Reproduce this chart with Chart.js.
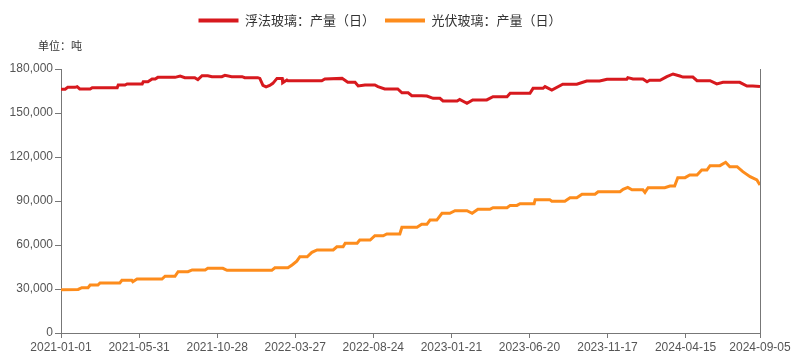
<!DOCTYPE html>
<html>
<head>
<meta charset="utf-8">
<script src="https://cdn.jsdelivr.net/npm/chart.js@4.4.1/dist/chart.umd.min.js"></script>
<style>
  html, body { margin: 0; padding: 0; background: #fff; }
  #wrap { position: relative; width: 800px; height: 357px; }
  #unit { position: absolute; left: 38px; top: 37px; font: 11px "Noto Sans CJK SC", sans-serif; color: #333; }
</style>
</head>
<body>
<div id="wrap">
  <canvas id="c" width="800" height="357"></canvas>
  <div id="unit">单位：吨</div>
</div>
<script>
// x positions are days since 2021-01-01
const tickDays   = [0, 150, 300, 450, 600, 750, 900, 1050, 1200, 1343];
const tickLabels = ['2021-01-01','2021-05-31','2021-10-28','2022-03-27','2022-08-24',
                    '2023-01-21','2023-06-20','2023-11-17','2024-04-15','2024-09-05'];

const seriesNames = ['浮法玻璃：产量（日）', '光伏玻璃：产量（日）'];

const floatDays = [0,8,13,27,31,36,56,60,108,110,123,127,156,158,167,175,181,186,219,229,238,257,263,271,282,290,309,315,328,348,353,378,382,388,394,401,407,415,425,426,434,436,501,507,540,551,565,571,584,603,609,622,647,655,667,674,693,703,715,728,734,761,766,780,791,818,830,857,863,901,907,926,930,943,964,991,1010,1035,1049,1087,1089,1099,1118,1126,1131,1151,1164,1176,1189,1195,1214,1222,1247,1260,1272,1304,1318,1329,1343];
const floatVals = [166200,166200,167500,167500,168000,166400,166400,167300,167300,169100,169100,169800,169800,171300,171300,173200,173200,174300,174300,175200,174100,174100,172700,175400,175400,174800,174800,175700,174800,174800,174100,174100,173600,168800,167800,168800,170200,173600,173600,170600,172500,172000,172000,173200,173600,170900,170900,168400,169100,169100,168000,166400,166400,163800,163800,161800,161800,161600,160000,160000,158200,158200,159300,156600,158900,158900,161100,161100,163400,163400,166800,166800,168000,165700,169600,169600,171800,171800,173000,173000,174100,173200,173200,171300,172300,172300,174800,176600,175200,174500,174500,172000,172000,169800,170900,170900,168400,168400,168000];

const pvDays = [0,33,40,52,56,71,75,113,117,136,138,146,194,200,219,225,244,252,277,282,311,319,405,411,436,444,453,459,473,482,492,523,530,542,546,569,574,594,603,619,626,651,655,684,693,703,709,722,732,747,757,780,790,801,824,830,857,863,876,882,909,911,939,943,968,978,991,1001,1026,1032,1074,1080,1089,1097,1118,1122,1128,1160,1170,1179,1185,1199,1208,1222,1231,1241,1247,1266,1277,1285,1299,1310,1324,1337,1343];
const pvVals = [29500,29700,30900,30900,32700,32700,34100,34100,35900,35900,35000,36800,36800,38700,38700,41800,41800,43000,43000,44100,44100,42700,42700,44500,44500,46400,49000,52000,52000,55000,56600,56600,58800,58800,61200,61200,63400,63400,66300,66300,67500,67500,72100,72100,74100,74100,77000,77000,81600,81600,83400,83400,81600,84300,84300,85400,85400,87000,87000,88200,88200,90900,90900,89800,89800,92200,92200,94600,94600,96300,96300,98000,99300,97700,97700,95900,99100,99100,100200,100200,105900,105900,107700,107700,111100,111100,114100,114100,116400,113400,113400,110000,106600,104300,100900];

const toPts = (d, v) => d.map((x, i) => ({ x: x, y: v[i] }));

const legendSpacer = {
  id: 'legendSpacer',
  beforeInit(chart) {
    const origFit = chart.legend.fit;
    chart.legend.fit = function () {
      origFit.bind(chart.legend)();
      this.height = 65;
    };
  }
};

const axisColor = '#777';
const labelColor = '#555';
const tickFont = { family: '"Liberation Sans", Arial, sans-serif', size: 12 };

new Chart(document.getElementById('c'), {
  type: 'line',
  data: {
    datasets: [
      { label: seriesNames[0], data: toPts(floatDays, floatVals), borderColor: '#d7191e', backgroundColor: '#d7191e',
        borderWidth: 3, pointRadius: 0, tension: 0, yAxisID: 'y' },
      { label: seriesNames[1], data: toPts(pvDays, pvVals), borderColor: '#fd8c1c', backgroundColor: '#fd8c1c',
        borderWidth: 3, pointRadius: 0, tension: 0, yAxisID: 'y' }
    ]
  },
  options: {
    responsive: false,
    animation: false,
    layout: { padding: { top: 4, left: 0, right: 40, bottom: 0 } },
    plugins: {
      legend: {
        position: 'top',
        labels: {
          boxWidth: 40, boxHeight: 4, padding: 10,
          color: '#333',
          font: { family: '"Noto Sans CJK SC", sans-serif', size: 13 },
          generateLabels(chart) {
            const items = Chart.defaults.plugins.legend.labels.generateLabels(chart);
            items.forEach(it => { it.lineWidth = 0; it.fillStyle = it.strokeStyle; });
            return items;
          }
        }
      },
      tooltip: { enabled: false }
    },
    scales: {
      x: {
        type: 'linear', min: 0, max: 1343,
        afterBuildTicks(scale) { scale.ticks = tickDays.map(v => ({ value: v })); },
        afterFit(scale) { scale.height = 24; },
        ticks: {
          autoSkip: false, maxRotation: 0, padding: 2, color: labelColor, font: tickFont,
          callback(value) { const i = tickDays.indexOf(value); return i >= 0 ? tickLabels[i] : ''; }
        },
        grid: { drawOnChartArea: false, drawTicks: true, tickLength: 5, color: axisColor },
        border: { display: true, color: axisColor, width: 1 }
      },
      y: {
        position: 'left', min: 0, max: 180000,
        afterFit(scale) { scale.width = 61; },
        ticks: {
          stepSize: 30000, padding: 2, color: labelColor, font: tickFont,
          callback(v) { return v.toLocaleString('en-US'); }
        },
        grid: { drawOnChartArea: false, drawTicks: true, tickLength: 6, color: axisColor },
        border: { display: true, color: axisColor, width: 1 }
      },
      yr: {
        position: 'right', min: 0, max: 180000,
        afterFit(scale) { scale.width = 0; },
        ticks: { display: false },
        grid: { display: false },
        border: { display: true, color: axisColor, width: 1 }
      }
    }
  },
  plugins: [legendSpacer]
});
</script>
</body>
</html>
